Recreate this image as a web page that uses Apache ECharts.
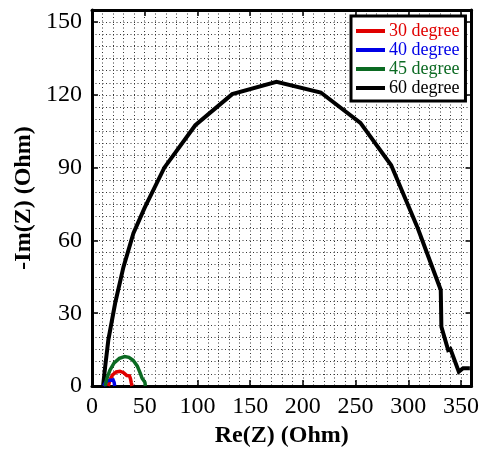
<!DOCTYPE html>
<html>
<head>
<meta charset="utf-8">
<script src="https://cdn.jsdelivr.net/npm/echarts@6/dist/echarts.min.js"></script>
<style>
  html, body { margin: 0; padding: 0; background: #fff; }
  #chart { width: 482px; height: 455px; }
</style>
</head>
<body>
<div id="chart"></div>
<script>
// Nyquist plots: [Re(Z), -Im(Z)] in Ohm for each angle
const seriesNames = ['30 degree', '40 degree', '45 degree', '60 degree'];
const seriesColors = ['#e00000', '#0000e6', '#0b6a22', '#000000'];

const deg30 = [[15.5,0],[17,2.5],[19.5,4.6],[23,5.8],[26.5,6.1],[30,5.5],[33,4.3],[34.5,3.8],[35.5,4.2],[36.5,3],[37.2,1.5],[38,0]];
const deg40 = [[11,0],[12.5,1.1],[14,2],[16,2.3],[17,1.6],[18,2.4],[20,2.5],[21,1.5],[21.5,0]];
const deg45 = [[12.5,0],[14,3],[17,6.5],[21,9.5],[26,11.4],[31,12.1],[35,11.8],[39,10.6],[43,8.2],[46,5],[47.5,3.2],[49,3],[50.2,1.5],[50.6,0]];
const deg60 = [[10.5,0],[12.5,8],[15.5,19],[21.9,34],[29.8,49],[39.3,63],[50,73.5],[68.6,90],[98,107.5],[133,120.3],[175,125.4],[217,121],[254.6,108.5],[283.8,91],[309,65],[330.8,39.6],[331.4,24.4],[337.8,14.8],[340,15.2],[347.9,5.9],[352,7.3],[358.4,7.3]];

const xTickValues = [0, 50, 100, 150, 200, 250, 300, 350];
const yTickValues = [0, 30, 60, 90, 120, 150];

const X_MIN = 0, X_MAX = 360, Y_MIN = 0, Y_MAX = 155;

const serif = "'Liberation Serif', 'Times New Roman', serif";
const dotted = { type: [1, 2.5], color: '#333', width: 1 };

const chart = echarts.init(document.getElementById('chart'), null, { renderer: 'canvas' });

const dataSets = [deg30, deg40, deg45, deg60];

chart.setOption({
  animation: false,
  backgroundColor: '#fff',
  grid: { left: 92, right: 10, top: 10, bottom: 69 },
  legend: {
    orient: 'vertical',
    left: 351,
    top: 16,
    padding: [6, 6, 4, 5],
    itemGap: 1,
    itemWidth: 29,
    itemHeight: 4,
    icon: 'rect',
    backgroundColor: '#fff',
    borderColor: '#000',
    borderWidth: 3,
    borderRadius: 0,
    textStyle: { fontFamily: serif, fontSize: 18, padding: [0, 0, 0, -1] },
    data: seriesNames.map((n, i) => ({ name: n, textStyle: { color: seriesColors[i] } }))
  },
  xAxis: [
    { // fine dotted grid, frame line
      type: 'value', position: 'bottom', min: X_MIN, max: X_MAX, interval: 10,
      axisLine: { show: true, onZero: false, lineStyle: { color: '#000', width: 3 } },
      axisTick: { show: false }, axisLabel: { show: false },
      splitLine: { show: true, lineStyle: dotted },
      name: 'Re(Z) (Ohm)', nameLocation: 'middle', nameGap: 38,
      nameTextStyle: { fontFamily: serif, fontSize: 24, fontWeight: 'bold', color: '#000' }
    },
    { // major ticks and labels
      type: 'value', position: 'bottom', min: X_MIN, max: X_MAX, interval: 50,
      axisLine: { show: false, onZero: false },
      axisTick: { show: true, inside: true, length: 6, lineStyle: { color: '#000', width: 1.5 } },
      axisLabel: { show: true, showMaxLabel: false, margin: 9, fontFamily: serif, fontSize: 24, color: '#000' },
      splitLine: { show: false }
    },
    { // top frame
      type: 'value', position: 'top', min: X_MIN, max: X_MAX, interval: 50,
      axisLine: { show: true, onZero: false, lineStyle: { color: '#000', width: 3 } },
      axisTick: { show: true, inside: true, length: 6, lineStyle: { color: '#000', width: 1.5 } },
      axisLabel: { show: false }, splitLine: { show: false }
    }
  ],
  yAxis: [
    {
      type: 'value', position: 'left', min: Y_MIN, max: Y_MAX, interval: 5,
      axisLine: { show: true, onZero: false, lineStyle: { color: '#000', width: 3 } },
      axisTick: { show: false }, axisLabel: { show: false },
      splitLine: { show: true, lineStyle: dotted },
      name: '-Im(Z) (Ohm)', nameLocation: 'middle', nameGap: 56,
      nameTextStyle: { fontFamily: serif, fontSize: 24, fontWeight: 'bold', color: '#000' }
    },
    {
      type: 'value', position: 'left', min: Y_MIN, max: Y_MAX, interval: 30,
      axisLine: { show: false, onZero: false },
      axisTick: { show: true, inside: true, length: 6, lineStyle: { color: '#000', width: 1.5 } },
      axisLabel: { show: true, showMaxLabel: false, margin: 10, fontFamily: serif, fontSize: 24, color: '#000' },
      splitLine: { show: false }
    },
    {
      type: 'value', position: 'right', min: Y_MIN, max: Y_MAX, interval: 30,
      axisLine: { show: true, onZero: false, lineStyle: { color: '#000', width: 3 } },
      axisTick: { show: true, inside: true, length: 6, lineStyle: { color: '#000', width: 1.5 } },
      axisLabel: { show: false }, splitLine: { show: false }
    }
  ],
  series: dataSets.map((d, i) => ({
    name: seriesNames[i],
    type: 'line',
    xAxisIndex: 0,
    yAxisIndex: 0,
    data: d,
    showSymbol: false,
    symbol: 'none',
    color: seriesColors[i],
    lineStyle: { color: seriesColors[i], width: i === 3 ? 4 : 3.5, join: 'miter' },
    z: i === 3 ? 2 : 3
  }))
});
</script>
</body>
</html>
